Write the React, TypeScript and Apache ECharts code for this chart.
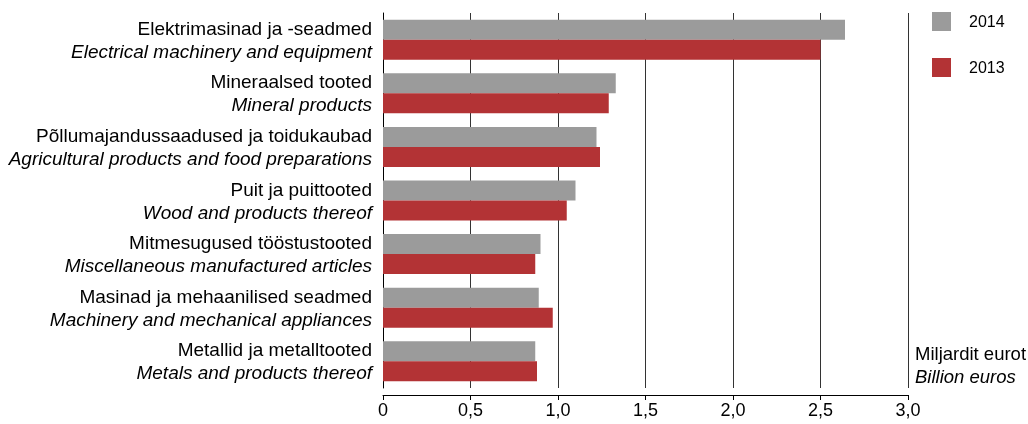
import React, { useEffect, useRef } from "react";
import * as echarts from "echarts";

const categoriesEt = [
  "Elektrimasinad ja -seadmed",
  "Mineraalsed tooted",
  "Põllumajandussaadused ja toidukaubad",
  "Puit ja puittooted",
  "Mitmesugused tööstustooted",
  "Masinad ja mehaanilised seadmed",
  "Metallid ja metalltooted",
];
const categoriesEn = [
  "Electrical machinery and equipment",
  "Mineral products",
  "Agricultural products and food preparations",
  "Wood and products thereof",
  "Miscellaneous manufactured articles",
  "Machinery and mechanical appliances",
  "Metals and products thereof",
];
const values2014 = [2.64, 1.33, 1.22, 1.1, 0.9, 0.89, 0.87];
const values2013 = [2.5, 1.29, 1.24, 1.05, 0.87, 0.97, 0.88];
const seriesNames = ["2014", "2013"];
const unitEt = "Miljardit eurot";
const unitEn = "Billion euros";

const FONT = "Liberation Sans";

function fmtTick(v: any): string {
  const n = Number(v);
  if (n === 0) return "0";
  return n.toFixed(1).replace(".", ",");
}

export default function App() {
  const ref = useRef<HTMLDivElement>(null);
  useEffect(() => {
    if (!ref.current) return;
    const chart = echarts.init(ref.current, undefined, { renderer: "svg" });
    const cats = categoriesEt.map((c, i) => c + "\n" + categoriesEn[i]);
    chart.setOption({
      animation: false,
      textStyle: { fontFamily: FONT },
      legend: {
        data: seriesNames,
        orient: "vertical",
        left: 932,
        top: 12,
        padding: 0,
        itemWidth: 19,
        itemHeight: 19,
        itemGap: 27,
        icon: "rect",
        textStyle: { fontSize: 16, color: "#000", fontFamily: FONT, padding: [0, 0, 0, 13] },
      },
      grid: { left: 383, right: 120, top: 13, bottom: 36, containLabel: false },
      xAxis: {
        type: "value",
        min: 0,
        max: 3,
        interval: 0.5,
        offset: 7,
        axisLine: { show: true, lineStyle: { color: "#000", width: 1 } },
        axisTick: { show: true, length: 5, lineStyle: { color: "#000" } },
        splitLine: { show: true, lineStyle: { color: "#333", width: 1 } },
        axisLabel: {
          color: "#000",
          fontSize: 18,
          fontFamily: FONT,
          margin: 6,
          formatter: fmtTick,
        },
      },
      yAxis: {
        type: "category",
        data: cats,
        inverse: true,
        axisLine: { show: true, lineStyle: { color: "#000", width: 1 } },
        axisTick: { show: false },
        axisLabel: {
          margin: 11,
          color: "#000",
          formatter: (v: string) => {
            const [a, b] = v.split("\n");
            return "{a|" + a + "}\n{b|" + b + "}";
          },
          rich: {
            a: { fontSize: 19, fontFamily: FONT, color: "#000", lineHeight: 23, align: "right" },
            b: { fontSize: 19, fontFamily: FONT, color: "#000", lineHeight: 23, fontStyle: "italic", align: "right" },
          },
        },
      },
      series: [
        {
          name: seriesNames[0],
          type: "bar",
          data: values2014,
          barWidth: 20,
          barGap: "0%",
          itemStyle: { color: "#9b9b9b" },
        },
        {
          name: seriesNames[1],
          type: "bar",
          data: values2013,
          barWidth: 20,
          barGap: "0%",
          itemStyle: { color: "#b33335" },
        },
      ],
      graphic: [
        {
          type: "text",
          x: 915,
          y: 344,
          style: { text: unitEt, fontSize: 18.5, fontFamily: FONT, fill: "#000" },
        },
        {
          type: "text",
          x: 915,
          y: 367,
          style: { text: unitEn, fontSize: 18.5, fontFamily: FONT, fontStyle: "italic", fill: "#000" },
        },
      ],
    });
    return () => chart.dispose();
  }, []);
  return <div ref={ref} style={{ width: 1028, height: 424, position: "fixed", left: 0, top: 0 }} />;
}
